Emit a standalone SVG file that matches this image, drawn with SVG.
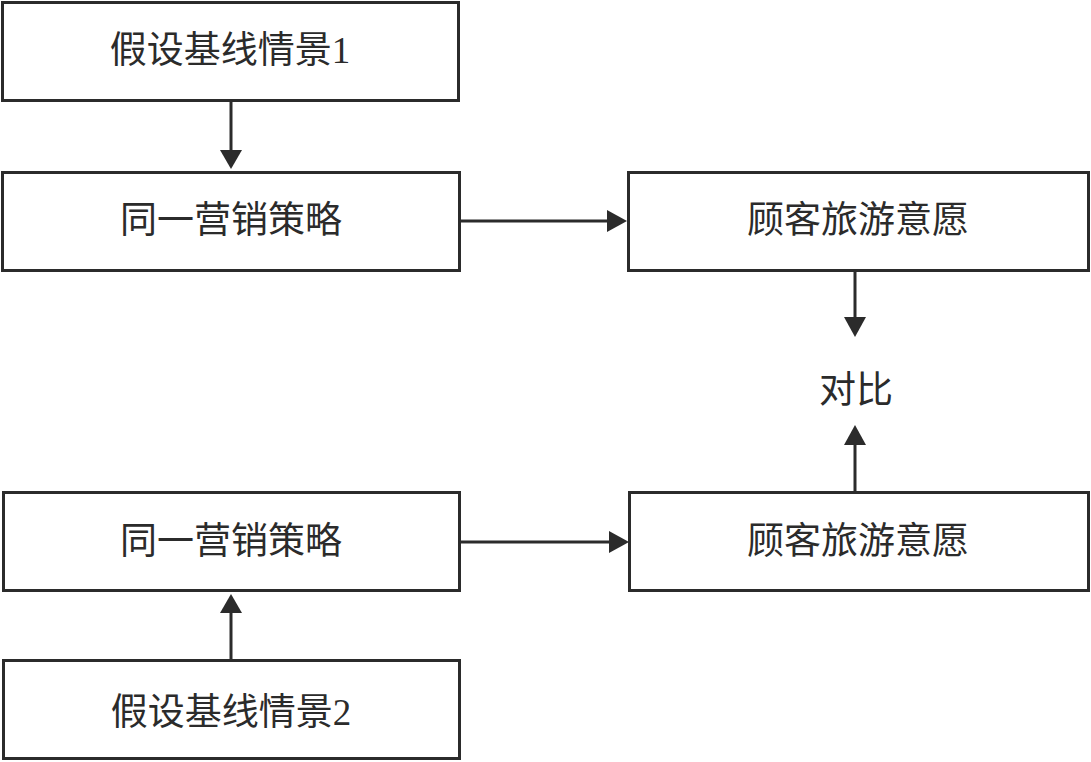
<svg xmlns="http://www.w3.org/2000/svg" width="1091" height="762" viewBox="0 0 1091 762">
<defs>
<style>
.box{fill:#fff;stroke:#2b2b2b;stroke-width:3}
.lbl{font-family:"Liberation Serif","Noto Sans CJK SC",serif;font-size:37px;fill:#2b2b2b;text-anchor:middle;dominant-baseline:central}
.con{stroke:#2b2b2b;stroke-width:3;fill:none}
.head{fill:#2b2b2b}
</style>
</defs>
<rect width="1091" height="762" fill="#fff"/>
<g id="connectors">
<line class="con" x1="231" y1="101" x2="231" y2="150"/>
<path class="head" d="M220,150 L242,150 L231,169 z"/>
<line class="con" x1="460" y1="221" x2="608" y2="221"/>
<path class="head" d="M607,210 L607,232 L627,221 z"/>
<line class="con" x1="855" y1="271" x2="855" y2="318"/>
<path class="head" d="M844,317 L866,317 L855,337 z"/>
<line class="con" x1="855" y1="491" x2="855" y2="444"/>
<path class="head" d="M844,445 L866,445 L855,425 z"/>
<line class="con" x1="460" y1="542" x2="610" y2="542"/>
<path class="head" d="M609,531 L609,553 L629,542 z"/>
<line class="con" x1="231" y1="659" x2="231" y2="612"/>
<path class="head" d="M220,613 L242,613 L231,594 z"/>
</g>
<g id="n1"><rect class="box" x="2.5" y="2.5" width="456" height="98"/><text class="lbl" x="230" y="50">假设基线情景1</text></g>
<g id="n2"><rect class="box" x="2.5" y="172.5" width="457" height="98"/><text class="lbl" x="231" y="220">同一营销策略</text></g>
<g id="n3"><rect class="box" x="628.5" y="172.5" width="460" height="98"/><text class="lbl" x="858" y="220">顾客旅游意愿</text></g>
<g id="n4"><text class="lbl" x="856" y="390">对比</text></g>
<g id="n5"><rect class="box" x="3.5" y="492.5" width="456" height="98"/><text class="lbl" x="231" y="541">同一营销策略</text></g>
<g id="n6"><rect class="box" x="629.5" y="492.5" width="459" height="98"/><text class="lbl" x="858" y="541">顾客旅游意愿</text></g>
<g id="n7"><rect class="box" x="3.5" y="660.5" width="456" height="98"/><text class="lbl" x="231" y="712">假设基线情景2</text></g>
</svg>
